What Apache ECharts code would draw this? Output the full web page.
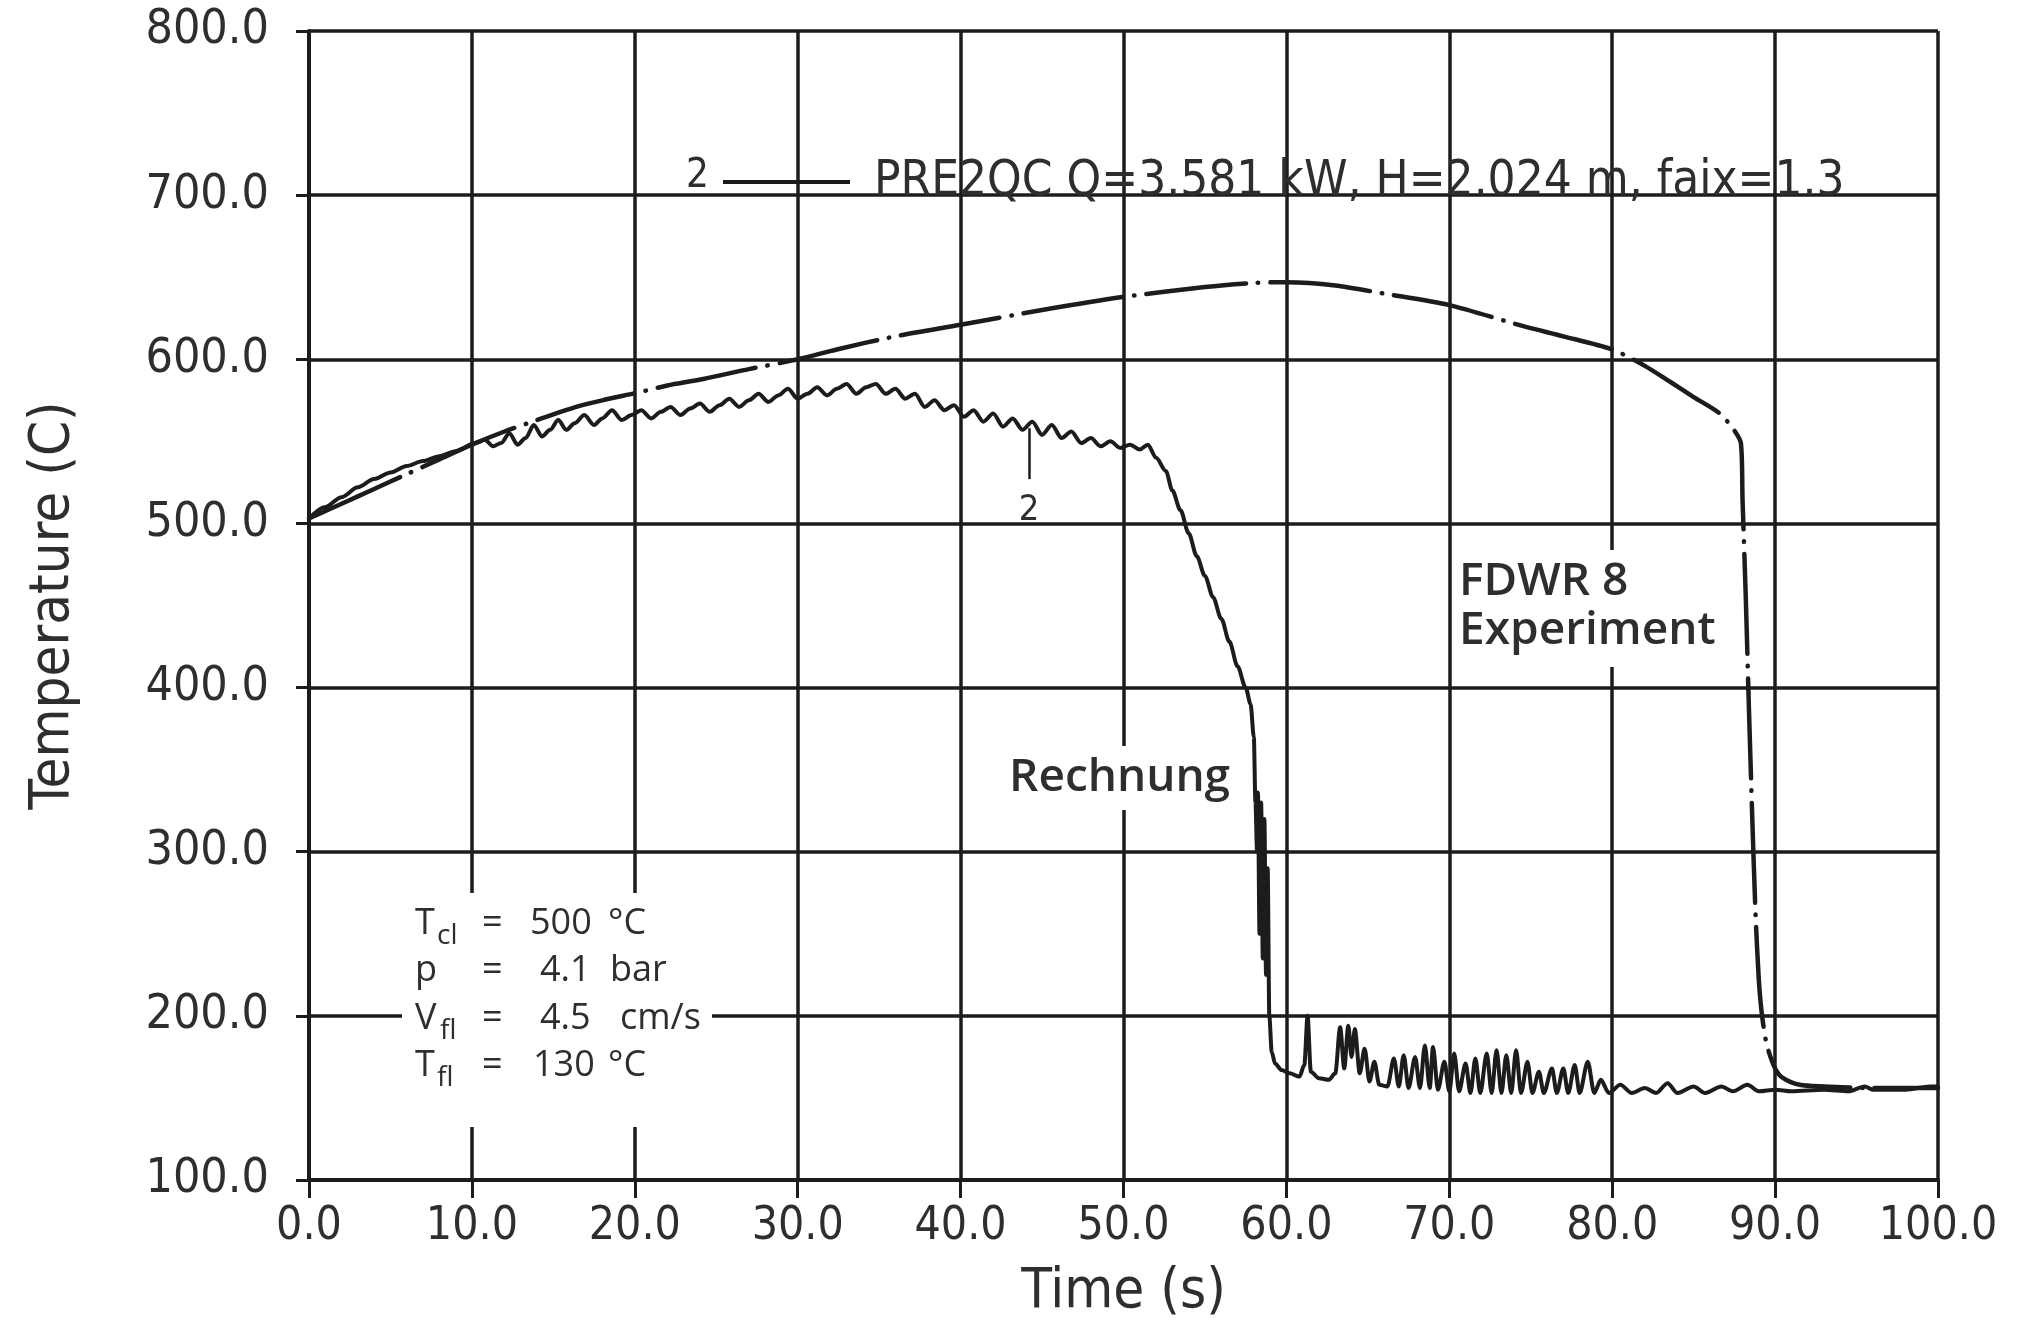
<!DOCTYPE html>
<html>
<head>
<meta charset="utf-8">
<title>FDWR 8 – Rechnung und Experiment</title>
<script src="https://cdn.jsdelivr.net/npm/echarts@6/dist/echarts.min.js"></script>
<style>
  html, body { margin: 0; padding: 0; background: #ffffff; }
  #chart { width: 2033px; height: 1328px; }
</style>
</head>
<body>
<div id="chart"></div>
<script>
// Rechnung (PRE2QC), cladding temperature over time
const timeCalc = [
  0, 1, 2, 3, 4, 5, 6, 7, 8, 9,
  10.2, 10.8, 11.3, 11.8, 12.3, 12.8, 13.3, 13.8, 14.3, 14.8, 15.3, 15.8, 16.3, 16.9, 17.5, 18.0, 18.6, 19.2, 19.8,
  20.4, 21.0, 21.6, 22.2, 22.8, 23.4, 24.0, 24.6, 25.2, 25.8, 26.4, 27.0, 27.6, 28.2, 28.8, 29.4,
  30.0, 30.6, 31.2, 31.8, 32.4, 33.0, 33.6, 34.2, 34.8, 35.4, 36.0, 36.6, 37.2, 37.8, 38.4, 39.0, 39.6,
  40.2, 40.8, 41.4, 42.0, 42.6, 43.2, 43.8, 44.4, 45.0, 45.6, 46.2, 46.8, 47.4, 48.0, 48.6, 49.2, 49.8,
  50.4, 51.0, 51.5, 52.0, 52.6, 53.0, 53.5, 54.0, 54.5, 55.0, 55.5, 56.0, 56.5, 57.0, 57.5, 57.8,
  58.0, 58.1, 58.2, 58.25, 58.35, 58.45, 58.55, 58.65, 58.75, 58.85, 58.95, 59.1, 59.3, 59.7,
  60.2, 60.8, 61.1, 61.3, 61.5, 62.0, 62.6, 63.0, 63.3, 63.55, 63.8, 64.0, 64.2, 64.5, 64.8, 65.1, 65.4, 65.7,
  66.2, 66.6, 66.9, 67.2, 67.5, 67.9, 68.2, 68.5, 68.8, 69.0, 69.3, 69.7,
  70.0, 70.3, 70.6, 71.0, 71.3, 71.6, 71.9, 72.3, 72.6, 72.9, 73.2, 73.5, 73.8, 74.1, 74.4, 74.8,
  75.1, 75.5, 75.8, 76.3, 76.6, 77.0, 77.3, 77.7, 78.0, 78.5, 78.9, 79.3, 79.8,
  80.5, 81.2, 82.0, 82.7, 83.4, 84.0, 85.0, 85.7, 86.7, 87.4, 88.3, 89.0,
  90, 91, 93, 94.5, 95.5, 96, 98, 99.5, 100
];
const tempCalc = [
  503, 510, 516, 522, 527, 531, 535, 538, 541, 544,
  549, 551, 547, 549, 555, 548, 552, 560, 553, 557, 563, 557, 561, 566, 560, 564, 569, 563, 566,
  569, 564, 568, 571, 566, 570, 573, 568, 572, 576, 571, 575, 579, 574, 578, 582,
  576, 579, 583, 578, 582, 585, 579, 583, 585, 579, 582, 576, 579, 571, 575, 569, 572,
  565, 569, 562, 567, 559, 564, 557, 562, 554, 560, 552, 556, 549, 552, 547, 550, 546,
  548, 545, 548, 540, 532, 520, 508, 494, 480, 468, 455, 442, 428, 413, 400, 390,
  370, 330, 300, 336, 250, 330, 235, 320, 225, 290, 200, 178, 171, 167,
  165, 163, 170, 200, 166, 162, 161, 165, 193, 168, 194, 175, 192, 165, 180, 160, 172, 158,
  157, 174, 157, 176, 156, 175, 156, 182, 156, 181, 155, 172,
  154, 177, 154, 171, 153, 174, 153, 177, 153, 179, 153, 176, 153, 179, 153, 172,
  153, 166, 153, 168, 153, 168, 153, 170, 153, 172, 153, 161, 153,
  158, 153, 156, 153, 159, 153, 157, 153, 157, 154, 158, 154,
  155, 154, 155, 154, 157, 155, 155, 157, 157
];

// FDWR 8 Experiment, measured cladding temperature
const timeExp = [
  0, 2, 4, 6, 8, 10, 12, 14, 16.4, 18, 20.3, 22, 24.2, 27, 30, 32.4, 36, 40, 45, 50, 55, 58,
  60, 63, 66, 70, 74.6, 77, 80, 82, 83.6, 85, 86.6, 87.4, 87.9,
  88.0, 88.2, 88.4, 88.6, 88.8, 89.0, 89.2, 89.5, 90.0, 90.5, 91.5, 93, 96, 100
];
const tempExp = [
  503, 512, 521, 530, 539, 548, 556, 563, 571, 575, 580, 584, 588, 594, 600, 606, 614, 621, 630, 638, 644, 646.5,
  647, 645, 640, 633, 620, 614, 606, 596, 586, 577, 567, 558, 549,
  515, 455, 385, 320, 262, 222, 200, 182, 168, 162, 158, 157, 156, 156
];

// Axis ticks
const xTicks = [0, 10, 20, 30, 40, 50, 60, 70, 80, 90, 100];
const yTicks = [100, 200, 300, 400, 500, 600, 700, 800];

// Curve label "2": pointer on the calculated curve
const markerTime = 44.2;
const markerTemps = [558, 527];

// Test conditions
const condRows = [
  { sym: 'T', sub: 'cl', val: '500', unit: '°C' },
  { sym: 'p', sub: '', val: '4.1', unit: 'bar' },
  { sym: 'V', sub: 'fl', val: '4.5', unit: 'cm/s' },
  { sym: 'T', sub: 'fl', val: '130', unit: '°C' }
];

const axisFont = "'DejaVu Sans Condensed', 'DejaVu Sans', sans-serif";
const noteFont = "'Open Sans', 'Noto Sans', sans-serif";
const ink = '#1c1c1c';
const textInk = '#2e2e2e';

const zip = (xs, ys) => xs.map((x, i) => [x, ys[i]]);

const chart = echarts.init(document.getElementById('chart'), null, { renderer: 'canvas' });

// Conditions block: white panel with aligned columns
const condChildren = [
  { type: 'rect', shape: { x: 402, y: 893, width: 310, height: 234 }, style: { fill: '#ffffff' }, z: 50 }
];
const rowBase = [924, 971, 1019, 1066];
const unitX = [608, 610, 620, 608];
const valX = [530, 540, 540, 533];
condRows.forEach((r, i) => {
  const y = rowBase[i];
  const base = { fontFamily: noteFont, fontSize: 36, fill: textInk, verticalAlign: 'middle' };
  condChildren.push({ type: 'text', x: 415, y: y, z: 51, style: Object.assign({ text: r.sym }, base) });
  if (r.sub) {
    condChildren.push({ type: 'text', x: r.sym === 'V' ? 440 : 437, y: y + 12, z: 51,
      style: Object.assign({}, base, { text: r.sub, fontSize: 28 }) });
  }
  condChildren.push({ type: 'text', x: 482, y: y, z: 51, style: Object.assign({ text: '=' }, base) });
  condChildren.push({ type: 'text', x: valX[i], y: y, z: 51, style: Object.assign({ text: r.val }, base) });
  condChildren.push({ type: 'text', x: unitX[i], y: y, z: 51, style: Object.assign({ text: r.unit }, base) });
});

const option = {
  backgroundColor: '#ffffff',
  animation: false,
  grid: { left: 309, right: 95, top: 31, bottom: 148, containLabel: false },
  legend: {
    data: ['PRE2QC'],
    left: 718,
    top: 151,
    icon: 'rect',
    itemWidth: 127,
    itemHeight: 4,
    selectedMode: false,
    formatter: () => 'PRE2QC Q=3.581 kW, H=2.024 m, faix=1.3',
    textStyle: { fontFamily: axisFont, fontSize: 49, color: textInk, lineHeight: 52, padding: [0, 0, 0, 19] }
  },
  xAxis: {
    type: 'value',
    min: xTicks[0],
    max: xTicks[xTicks.length - 1],
    interval: 10,
    name: 'Time (s)',
    nameLocation: 'middle',
    nameGap: 84,
    nameTextStyle: { fontFamily: axisFont, fontSize: 56, color: textInk },
    axisLine: { show: true, onZero: false, lineStyle: { color: ink, width: 4 } },
    axisTick: { show: true, length: 18, lineStyle: { color: ink, width: 3 } },
    axisLabel: { margin: 24, fontFamily: axisFont, fontSize: 46, color: textInk, formatter: v => v.toFixed(1) },
    splitLine: { show: true, lineStyle: { color: ink, width: 3.5 } }
  },
  yAxis: {
    type: 'value',
    min: yTicks[0],
    max: yTicks[yTicks.length - 1],
    interval: 100,
    name: 'Temperature (C)',
    nameLocation: 'middle',
    nameGap: 228,
    nameRotate: 90,
    nameTextStyle: { fontFamily: axisFont, fontSize: 56, color: textInk },
    axisLine: { show: true, onZero: false, lineStyle: { color: ink, width: 4 } },
    axisTick: { show: true, length: 13, lineStyle: { color: ink, width: 3 } },
    axisLabel: { margin: 40, fontFamily: axisFont, fontSize: 48, color: textInk, formatter: v => v.toFixed(1) },
    splitLine: { show: true, lineStyle: { color: ink, width: 3.5 } }
  },
  series: [
    {
      name: 'PRE2QC',
      type: 'line',
      data: zip(timeCalc, tempCalc),
      showSymbol: false,
      smooth: 0.3,
      smoothMonotone: 'x',
      itemStyle: { color: ink },
      lineStyle: { color: ink, width: 4, join: 'round', cap: 'round' },
      z: 3,
      markLine: {
        silent: true,
        symbol: ['none', 'none'],
        lineStyle: { color: ink, width: 2.5, type: 'solid' },
        label: { show: true, position: 'end', distance: 14, formatter: '2',
                 fontFamily: axisFont, fontSize: 36, color: textInk },
        data: [[
          { coord: [markerTime, markerTemps[0]] },
          { coord: [markerTime, markerTemps[1]] }
        ]]
      }
    },
    {
      name: 'FDWR 8 Experiment',
      type: 'line',
      data: zip(timeExp, tempExp),
      showSymbol: false,
      smooth: 0.25,
      itemStyle: { color: ink },
      lineStyle: { color: ink, width: 4.5, type: [100, 12, 0.5, 12], cap: 'round', join: 'round' },
      z: 3
    }
  ],
  graphic: [
    // series number in front of the legend line
    { type: 'text', x: 686, y: 177, z: 51,
      style: { text: '2', fontFamily: axisFont, fontSize: 40, fill: textInk, verticalAlign: 'middle' } },
    // curve labels
    { type: 'text', x: 1005, y: 778, z: 51,
      style: { text: 'Rechnung', fontFamily: noteFont, fontWeight: 600, fontSize: 46, fill: textInk,
               verticalAlign: 'middle', backgroundColor: '#ffffff', padding: [4, 4, 4, 4], lineHeight: 56 } },
    { type: 'text', x: 1453, y: 550, z: 51,
      style: { text: 'FDWR 8\nExperiment', fontFamily: noteFont, fontWeight: 600, fontSize: 46, fill: textInk,
               verticalAlign: 'top', lineHeight: 49, backgroundColor: '#ffffff', padding: [7, 8, 12, 6] } },
    { type: 'group', children: condChildren }
  ]
};

chart.setOption(option);
</script>
</body>
</html>
